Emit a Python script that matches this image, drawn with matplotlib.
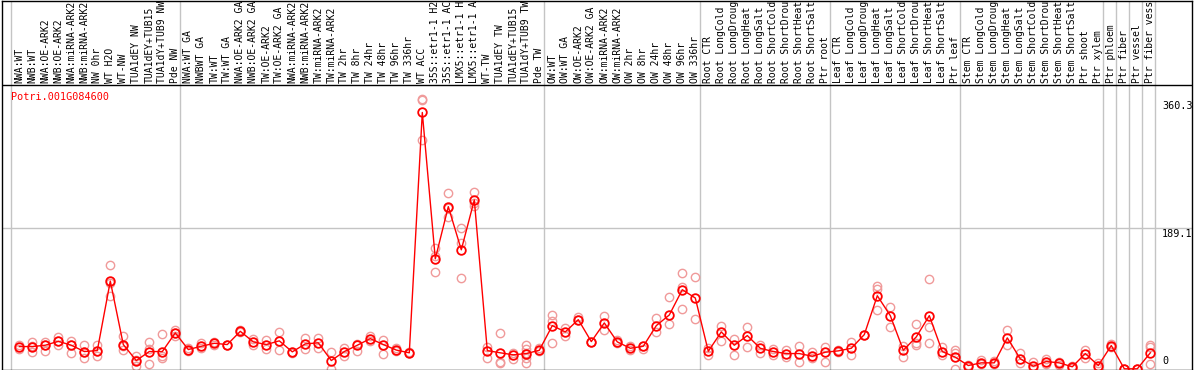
import matplotlib
matplotlib.use("Agg")
import matplotlib.pyplot as plt
import matplotlib.transforms as mtransforms

gene = "Potri.001G084600"

labels = [
    "NWA:WT", "NWB:WT", "NWA:OE-ARK2", "NWB:OE-ARK2", "NWA:miRNA-ARK2", "NWB:miRNA-ARK2",
    "NW 0hr", "WT H2O", "WT-NW", "TUA1dEY NW", "TUA1dEY+TUB15", "TUA1dY+TUB9 NW", "Pde NW",
    "NWA:WT GA", "NWBWT GA", "TW:WT", "TW:WT GA", "NWA:OE-ARK2 GA", "NWB:OE-ARK2 GA",
    "TW:OE-ARK2", "TW:OE-ARK2 GA", "NWA:miRNA-ARK2", "NWB:miRNA-ARK2", "TW:miRNA-ARK2",
    "TW:miRNA-ARK2", "TW 2hr", "TW 8hr", "TW 24hr", "TW 48hr", "TW 96hr", "TW 336hr",
    "WT ACC", "35S::etr1-1 H2", "35S::etr1-1 AC", "LMX5::etr1-1 H", "LMX5::etr1-1 A",
    "WT-TW", "TUA1dEY TW", "TUA1dEY+TUB15", "TUA1dY+TUB9 TW", "Pde TW",
    "OW:WT", "OW:WT GA", "OW:OE-ARK2", "OW:OE-ARK2 GA", "OW:miRNA-ARK2", "OW:miRNA-ARK2",
    "OW 2hr", "OW 8hr", "OW 24hr", "OW 48hr", "OW 96hr", "OW 336hr",
    "Root CTR", "Root LongCold", "Root LongDroug", "Root LongHeat", "Root LongSalt",
    "Root ShortCold", "Root ShortDrou", "Root ShortHeat", "Root ShortSalt", "Ptr root",
    "Leaf CTR", "Leaf LongCold", "Leaf LongDroug", "Leaf LongHeat", "Leaf LongSalt",
    "Leaf ShortCold", "Leaf ShortDrou", "Leaf ShortHeat", "Leaf ShortSalt", "Ptr leaf",
    "Stem CTR", "Stem LongCold", "Stem LongDroug", "Stem LongHeat", "Stem LongSalt",
    "Stem ShortCold", "Stem ShortDrou", "Stem ShortHeat", "Stem ShortSalt", "Ptr shoot",
    "Ptr xylem", "Ptr phloem", "Ptr fiber", "Ptr vessel", "Ptr fiber vess",
]

means = [
    29.9, 29.9, 31.7, 37.0, 31.7, 23.2, 24.5, 118.0, 32.6, 11.1, 23.2, 23.2, 48.3,
    25.9, 30.3, 34.3, 32.6, 50.4, 36.2, 32.6, 37.6, 22.8, 33.5, 34.9, 11.1, 23.2,
    31.7, 40.6, 32.6, 25.2, 21.5, 344.7, 147.9, 218.1, 160.0, 227.1, 24.5, 21.5,
    18.8, 20.5, 24.9,
    58.1, 49.6, 66.1, 36.6, 61.7, 36.2, 27.6, 30.3, 58.1, 72.4, 106.4, 95.2,
    23.6, 49.6, 31.7, 44.7, 27.6, 23.2, 20.5, 20.5, 16.9, 22.3,
    24.1, 27.6, 46.0, 98.3, 71.5, 24.9, 42.9, 71.5, 23.2, 15.6,
    4.4, 8.0, 8.0, 41.6, 13.4, 3.5, 9.8, 8.0, 2.7, 20.5, 4.4,
    31.3, 0.0, 0.0, 21.5,
]

replicates = [
    [31.7, 26.8], [35.8, 22.4, 30.4], [35.8, 24.6, 31.7], [42.9, 32.6, 37.1],
    [37.1, 21.5, 31.7], [31.7, 14.8, 23.2], [31.7, 17.0, 24.6], [139.9, 97.5, 115.3],
    [44.7, 25.9, 30.4], [17.0, 3.6, 11.2], [36.2, 26.8, 6.7], [46.9, 14.8, 17.0],
    [52.7, 43.8, 48.3],
    [28.2, 23.7], [34.9, 28.2], [35.8, 31.7], [32.6, 31.7], [52.7, 49.6],
    [40.7, 31.7], [38.4, 26.8], [49.6, 25.0], [22.8, 21.5], [41.6, 26.8],
    [41.6, 28.2], [22.4, 0.0], [28.2, 17.0], [33.5, 24.6], [43.8, 37.1],
    [38.4, 20.1], [28.2, 23.7], [22.4, 20.6], [363.4, 362.1, 307.6],
    [162.3, 130.1, 151.1], [236.0, 203.8, 215.9], [190.0, 122.0, 169.0],
    [237.4, 219.0, 223.5], [29.1, 14.8], [48.3, 8.9, 7.2], [21.5, 13.4],
    [32.6, 26.8, 20.6, 14.8, 8.0], [27.7, 23.7],
    [72.9, 63.9, 34.9], [55.0, 44.7], [69.3, 66.2], [36.7, 36.7], [70.6, 52.7],
    [39.3, 34.9], [30.4, 25.0], [30.4, 26.8], [68.4, 49.6], [96.6, 60.3],
    [128.7, 110.0, 80.5], [123.4, 67.1],
    [28.2, 19.2], [57.2, 37.1], [40.7, 17.9], [56.3, 29.5], [31.7, 20.6],
    [26.8, 19.2], [25.9, 16.1], [30.4, 9.4], [22.4, 14.3], [29.1, 9.4],
    [25.9, 22.4], [36.2, 18.8], [46.0, 46.0], [110.9, 107.3, 79.6], [82.7, 56.3],
    [30.4, 16.1], [60.3, 34.9, 32.6], [120.7, 56.3, 34.9], [29.5, 17.9],
    [25.0, 21.5, 0.0],
    [4.5, 2.7], [12.5, 5.8], [10.3, 5.8], [52.7, 32.6], [20.6, 7.2], [8.9, 0.9],
    [13.4, 5.8], [8.9, 4.5], [3.6, 0.9], [25.0, 14.3], [8.0, 0.9],
    [33.5, 29.1], [0.0, 0.0], [0.0, 0.0], [32.6, 29.5, 6.7],
]

group_starts = [0, 13, 41, 53, 63, 73, 84, 85, 86, 87, 88]
ytick_values = [360.3, 189.1, 0]
ytick_labels = ["360.3", "189.1", "0"]

W, H = 1194, 370
fig = plt.figure(figsize=(W / 100, H / 100), dpi=100)
ax = fig.add_axes([1.5 / W, 0.5 / H, 1190 / W, 369 / H])

# pixel geometry: column i at x = 19.3 + 13*i ; value v at y_px = 369.3 - 0.7456*v
x0, dx = 19.3, 13.0
px_per_unit = 0.7456
ax.set_xlim((1.5 - x0) / dx, (1191.5 - x0) / dx)
ax.set_ylim(-(370 - 369.3) / px_per_unit, 369.3 / px_per_unit)
ax.set_xticks([])
ax.set_yticks([])
for s in ax.spines.values():
    s.set_color("black")
    s.set_linewidth(1.0)

mono = "DejaVu Sans Mono"
fs = 7.0
grid_c = "#c4c4c4"
hdr_frac = 1 - 85 / 369.5

# header separator
ax.plot([0, 1], [hdr_frac, hdr_frac], transform=ax.transAxes, color="black", lw=1.0, zorder=3)

# group separators
for g in group_starts:
    ax.axvline(g - 0.63, color=grid_c, lw=1.0, zorder=0)
# horizontal grid line at middle tick
ax.axhline(ytick_values[1], color=grid_c, lw=1.0, zorder=0)

xs = list(range(len(labels)))

# header labels
trans = mtransforms.blended_transform_factory(ax.transData, ax.transAxes)
for i, lab in enumerate(labels):
    ax.text(i, hdr_frac + 2 / 369.5, lab, rotation=90, ha="center", va="bottom",
            fontsize=fs, family=mono, color="black", transform=trans, clip_on=False)

# replicates
for i, reps in enumerate(replicates):
    ax.plot([i] * len(reps), reps, linestyle="none", marker="o", markersize=6.0,
            markerfacecolor="none", markeredgecolor="#f09a9a", markeredgewidth=1.0, zorder=2)

# mean line
ax.plot(xs, means, color="red", lw=1.0, marker="o", markersize=6.2,
        markerfacecolor="none", markeredgecolor="red", markeredgewidth=1.3, zorder=4)

# title
ax.text(9 / 1190, (369.3 - 97) / px_per_unit, gene,
        transform=mtransforms.blended_transform_factory(ax.transAxes, ax.transData),
        ha="left", va="center", fontsize=fs + 0.3, family=mono, color="red")

# y tick labels on the right, inside frame
ytrans = mtransforms.blended_transform_factory(ax.transAxes, ax.transData)
xr = (1162 - 1.5) / 1190
for v, t in zip(ytick_values, ytick_labels):
    if v == 0:
        ax.text(xr, v + 3.5, t, transform=ytrans, ha="left", va="bottom",
                fontsize=fs + 0.3, family=mono, color="black")
    else:
        ax.text(xr, v - 0.5, t, transform=ytrans, ha="left", va="top",
                fontsize=fs + 0.3, family=mono, color="black")

fig.savefig("out.png", dpi=100)
